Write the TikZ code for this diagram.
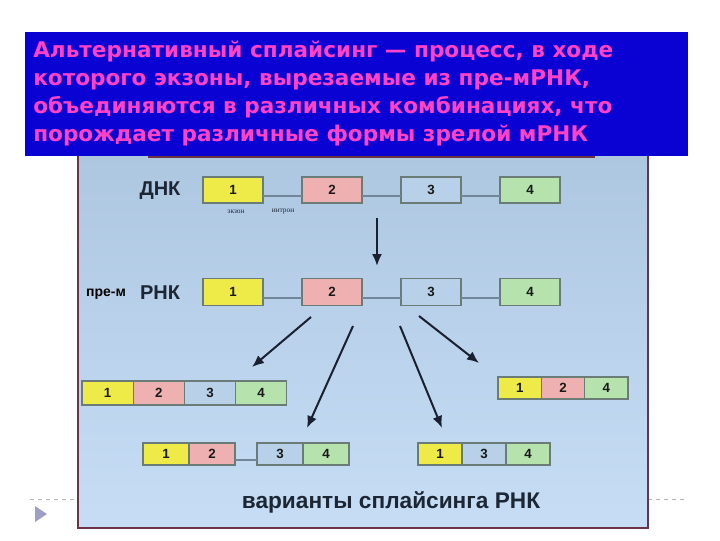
\documentclass[tikz,border=0pt]{standalone}
\usepackage{fontspec}
\setmainfont{Liberation Sans}
\newfontfamily\headfont{DejaVu Sans}
\newfontfamily\notefont{Liberation Serif}
\usetikzlibrary{positioning,arrows.meta}

\definecolor{headblue}{HTML}{0A02D2}
\definecolor{headpink}{HTML}{FF42C6}
\definecolor{panelborder}{HTML}{6A3444}
\definecolor{paneltop}{HTML}{AEC7E1}
\definecolor{panelbottom}{HTML}{C6DDF5}
\definecolor{exonborder}{HTML}{6B7B76}
\definecolor{intron}{HTML}{6F8797}
\definecolor{labeltext}{HTML}{1C2634}
\definecolor{arrowcol}{HTML}{1A2030}
\definecolor{yelA}{HTML}{EEEA48}
\definecolor{yelB}{HTML}{FAF88C}
\definecolor{pinkA}{HTML}{EEB0B0}
\definecolor{pinkB}{HTML}{F8CDCD}
\definecolor{bluA}{HTML}{B8D0E8}
\definecolor{bluB}{HTML}{DDEAF6}
\definecolor{grnA}{HTML}{B6E2AE}
\definecolor{grnB}{HTML}{D6F2D0}

\tikzset{
  exon/.style={draw=exonborder, line width=1pt, inner sep=0pt, outer sep=0pt,
    font=\bfseries\fontsize{10}{11}\selectfont, text=black!90},
  exyellow/.style={exon, top color=yelA, middle color=yelB, bottom color=yelA},
  expink/.style={exon, top color=pinkA, middle color=pinkB, bottom color=pinkA},
  exblue/.style={exon, top color=bluA, middle color=bluB, bottom color=bluA},
  exgreen/.style={exon, top color=grnA, middle color=grnB, bottom color=grnA},
  genebox/.style={minimum width=45pt, minimum height=19.5pt},
  wideseg/.style={minimum width=38.4pt, minimum height=18pt},
  shortseg/.style={minimum width=32.5pt, minimum height=16.5pt},
  midseg/.style={minimum width=34.5pt, minimum height=16.5pt},
  tightseg/.style={minimum width=33pt, minimum height=16.5pt},
  intronline/.style={draw=intron, line width=1.2pt},
  spliceflow/.style={draw=arrowcol, line width=1.5pt, -{Latex[length=9pt,width=7.5pt]}},
  rowlabel/.style={font=\bfseries\fontsize{15}{17}\selectfont, text=labeltext, inner sep=0pt}
}

\begin{document}
\begin{tikzpicture}[x=0.75pt,y=-0.75pt]
    \useasboundingbox (0,0) rectangle (720,540);

    % slide decor
    \draw[gray!60, dashed, line width=0.5pt] (30,499) -- (78,499);
    \draw[gray!60, dashed, line width=0.5pt] (648,499) -- (688,499);
    \fill[blue!25!gray!60] (35,506) -- (47,514) -- (35,522) -- cycle;

    % panel
    \shade[top color=paneltop, bottom color=panelbottom] (78,155) rectangle (648,528);
    \draw[panelborder, line width=2.2pt] (78,155) -- (78,528) -- (648,528) -- (648,155);
    \draw[panelborder, line width=2.2pt] (148,157) -- (595,157);

    % header
    \fill[headblue] (25,32) rectangle (688,156);
    \node[anchor=north west, inner sep=0pt, align=left, text=headpink,
      font=\headfont\bfseries\fontsize{16.2}{21}\selectfont] (head) at (33,41)
      {Альтернативный сплайсинг — процесс, в ходе\\
       которого экзоны, вырезаемые из пре-мРНК,\\
       объединяются в различных комбинациях, что\\
       порождает различные формы зрелой мРНК};

    % DNA
    \node[rowlabel] (dna) at (160,191) {ДНК};
    \node[exyellow, genebox] (d1) at (233,190) {1};
    \node[expink, genebox] (d2) at (332,190) {2};
    \node[exblue, genebox] (d3) at (431,190) {3};
    \node[exgreen, genebox] (d4) at (530,190) {4};
    \draw[intronline] ([yshift=-4.5pt]d1.east) -- ([yshift=-4.5pt]d2.west);
    \draw[intronline] ([yshift=-4.5pt]d2.east) -- ([yshift=-4.5pt]d3.west);
    \draw[intronline] ([yshift=-4.5pt]d3.east) -- ([yshift=-4.5pt]d4.west);
    \node[font=\notefont\fontsize{5.5}{6}\selectfont, text=labeltext, inner sep=0pt] (exonnote) at (236,212) {экзон};
    \node[font=\notefont\fontsize{5.5}{6}\selectfont, text=labeltext, inner sep=0pt] (intronnote) at (283,212) {интрон};

    \coordinate (t1) at (377,218);
    \coordinate (t2) at (377,266);
    \draw[spliceflow] (t1) -- (t2);

    % pre-mRNA
    \node[font=\bfseries\fontsize{10.5}{12}\selectfont, text=black, inner sep=0pt] (pre) at (106,294) {пре-м};
    \node[rowlabel] (rna) at (160,293) {РНК};
    \node[exyellow, genebox, minimum height=20pt] (p1) at (233,292) {1};
    \node[expink, genebox, minimum height=20pt] (p2) at (332,292) {2};
    \node[exblue, genebox, minimum height=20pt] (p3) at (431,292) {3};
    \node[exgreen, genebox, minimum height=20pt] (p4) at (530,292) {4};
    \draw[intronline] ([yshift=-4.5pt]p1.east) -- ([yshift=-4.5pt]p2.west);
    \draw[intronline] ([yshift=-4.5pt]p2.east) -- ([yshift=-4.5pt]p3.west);
    \draw[intronline] ([yshift=-4.5pt]p3.east) -- ([yshift=-4.5pt]p4.west);

    % arrows to variants
    \coordinate (a1) at (311,317);
    \coordinate (a2) at (252,367);
    \coordinate (b1) at (353,326);
    \coordinate (b2) at (307,428);
    \coordinate (c1) at (400,326);
    \coordinate (c2) at (442,428);
    \coordinate (e1) at (419,316);
    \coordinate (e2) at (479,363);
    \draw[spliceflow] (a1) -- (a2);
    \draw[spliceflow] (b1) -- (b2);
    \draw[spliceflow] (c1) -- (c2);
    \draw[spliceflow] (e1) -- (e2);

    % variant 1-2-3-4
    \node[exyellow, wideseg] (v1) at (107.6,393) {1};
    \node[expink, wideseg, right=0pt of v1] (v2) {2};
    \node[exblue, wideseg, right=0pt of v2] (v3) {3};
    \node[exgreen, wideseg, right=0pt of v3] (v4) {4};

    % variant 1-2-4
    \node[exyellow, shortseg] (w1) at (519.7,388) {1};
    \node[expink, shortseg, right=0pt of w1] (w2) {2};
    \node[exgreen, shortseg, right=0pt of w2] (w4) {4};

    % variant 1-2 / 3-4
    \node[exyellow, midseg] (x1) at (166,454) {1};
    \node[expink, midseg, right=0pt of x1] (x2) {2};
    \node[exblue, midseg] (x3) at (280,454) {3};
    \node[exgreen, midseg, right=0pt of x3] (x4) {4};
    \draw[intronline] ([yshift=-4.5pt]x2.east) -- ([yshift=-4.5pt]x3.west);

    % variant 1-3-4
    \node[exyellow, tightseg] (y1) at (440,454) {1};
    \node[exblue, tightseg, right=0pt of y1] (y3) {3};
    \node[exgreen, tightseg, right=0pt of y3] (y4) {4};

    \node[font=\bfseries\fontsize{17}{19}\selectfont, text=labeltext, inner sep=0pt] (variants) at (391,502) {варианты сплайсинга РНК};
\end{tikzpicture}
\end{document}
